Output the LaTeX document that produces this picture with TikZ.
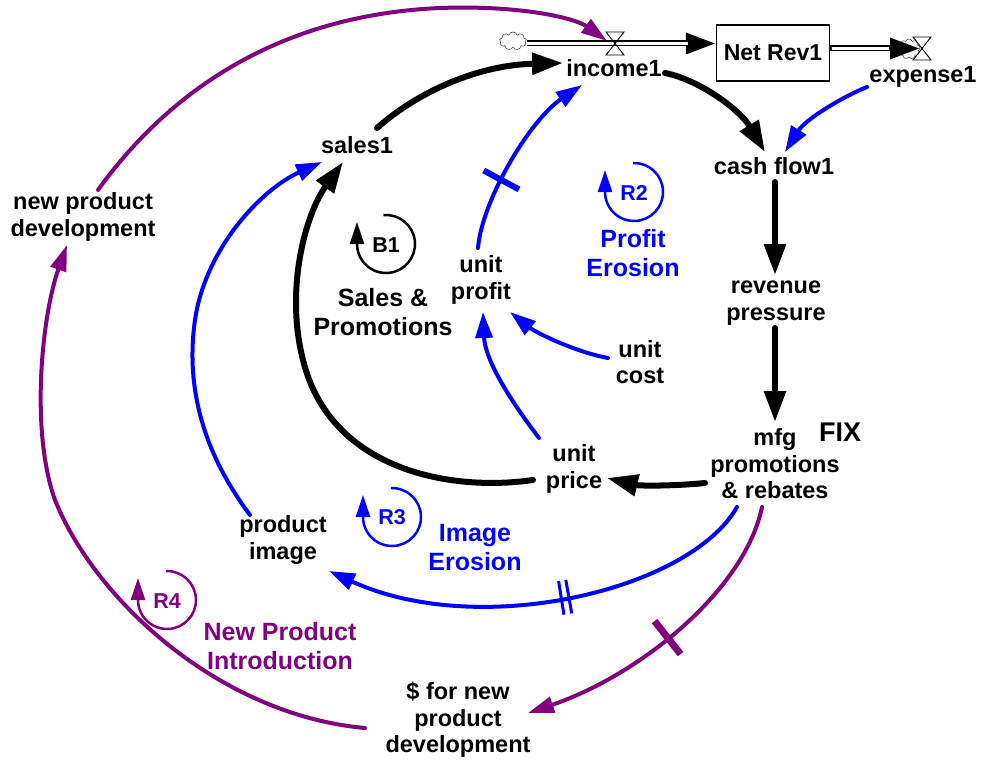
\documentclass[tikz,border=0pt]{standalone}
\usepackage{fontspec}
\setmainfont{Liberation Sans}
\usetikzlibrary{arrows.meta,shapes.symbols}
\definecolor{vblue}{RGB}{0,0,255}
\definecolor{vpurple}{RGB}{128,0,128}
\begin{document}
\begin{tikzpicture}[x=1pt,y=-1pt,
  var/.style={font=\fontsize{23.5}{26.5}\selectfont\bfseries, align=center, inner sep=0pt},
  looplbl/.style={font=\fontsize{25}{29}\selectfont\bfseries, align=center, inner sep=0pt},
  loopid/.style={font=\fontsize{21.5}{24}\selectfont\bfseries, inner sep=0pt},
  blk/.style={line width=6pt, line cap=round, -{Triangle[length=31pt,width=21pt]}},
  blu/.style={vblue, line width=4pt, line cap=round, -{Triangle[length=26pt,width=17pt]}},
  pur/.style={vpurple, line width=4pt, line cap=round, -{Triangle[length=26pt,width=16pt]}},
  loopc/.style={line width=2.5pt, -{Triangle[length=22pt,width=14pt]}},
  delaybar/.style={sloped, inner sep=0pt, minimum width=6pt, minimum height=40pt, fill=#1},
  dbar/.style={sloped, inner sep=0pt, minimum width=3pt, minimum height=34pt, fill=#1},
  valve/.style={line width=0.9pt},
  cloudy/.style={cloud, cloud puffs=9, cloud ignores aspect, draw=black!70, line width=0.6pt, inner sep=0pt},
]
\useasboundingbox (0,0) rectangle (982,760);

% ---------- variables ----------
\node[var] (income) at (614,68) {income1};
\node[var] (sales) at (357,145) {sales1};
\node[var] (expense) at (923,77) {expense1};
\node[var] (cashflow) at (774,166) {cash flow1};
\node[var] (revp) at (776,303) {revenue\\pressure};
\node[var] (mfg) at (775,464) {mfg\\promotions\\\& rebates};
\node[font=\fontsize{27}{30}\selectfont\bfseries, inner sep=0pt] (fix) at (840,432) {FIX};
\node[var] (uprice) at (574,469) {unit\\price};
\node[var] (uprofit) at (481,280) {unit\\profit};
\node[var] (ucost) at (640,362) {unit\\cost};
\node[var] (pimage) at (283,540) {product\\image};
\node[var] (npd) at (83,217) {new product\\development};
\node[var] (fnpd) at (458,720) {\$ for new\\product\\development};
\node[var, font=\fontsize{23}{27}\selectfont\bfseries, draw, line width=1.3pt, minimum width=113pt, minimum height=56pt] (netrev) at (773,53) {Net Rev1};

% ---------- stock and flows ----------
\node[cloudy, minimum width=27pt, minimum height=18pt] (cloudL) at (513,41) {};
\node[cloudy, minimum width=22pt, minimum height=20pt] (cloudR) at (909,49) {};
\coordinate (valveL) at (615,43.5);
\coordinate (valveR) at (922,48.5);
\draw[line width=6pt, -{Triangle[length=30pt,width=20pt]}] (cloudL.east |- valveL) -- ([shift={(0,-9.5)}]netrev.west);
\draw[white, line width=2.6pt] (cloudL.east |- valveL) -- (688,43.5);
\draw[line width=6pt, -{Triangle[length=30pt,width=20pt]}] ([shift={(0,-4.5)}]netrev.east) -- ([shift={(-2,0)}]valveR);
\draw[white, line width=2.6pt] ([shift={(1.5,-4.5)}]netrev.east) -- (889,48.5);
\draw[valve] ([shift={(-9,-11.5)}]valveL) -- ([shift={(9,-11.5)}]valveL) -- ([shift={(-9,11.5)}]valveL) -- ([shift={(9,11.5)}]valveL) -- cycle;
\draw[valve] ([shift={(-9,-11.5)}]valveR) -- ([shift={(9,-11.5)}]valveR) -- ([shift={(-9,11.5)}]valveR) -- ([shift={(9,11.5)}]valveR) -- cycle;

% ---------- black links ----------
\draw[blk] ([shift={(20,-17)}]sales.center) .. controls (420,90) and (480,65) .. ([shift={(-51,-5)}]income.center);
\draw[blk] ([shift={(51,5)}]income.center) .. controls (700,80) and (740,110) .. ([shift={(-9,-14)}]cashflow.center);
\draw[blk] ([shift={(1,16)}]cashflow.center) -- ([shift={(-1,-28)}]revp.center);
\draw[blk] ([shift={(-1,25)}]revp.center) -- ([shift={(0,-42)}]mfg.center);
\draw[blk] ([shift={(-70,19)}]mfg.center) .. controls (675,486) and (640,486) .. ([shift={(33,9)}]uprice.center);
\draw[blk] ([shift={(-41,11)}]uprice.center) .. controls (450,492) and (330,470) .. (303,360)
   .. controls (285,290) and (305,215) .. ([shift={(-14,17)}]sales.center);

% ---------- blue links ----------
\draw[blu] ([shift={(-3,-32)}]uprofit.center) .. controls (482,200) and (530,120) .. ([shift={(-32,17)}]income.center)
   node[delaybar=vblue, pos=0.4] (d1) {};
\draw[blu] ([shift={(-56,10)}]expense.center) .. controls (840,98) and (805,120) .. ([shift={(11,-14)}]cashflow.center);
\draw[blu] ([shift={(-32,-4)}]ucost.center) .. controls (575,352) and (535,332) .. ([shift={(29,32)}]uprofit.center);
\draw[blu] ([shift={(-35,-31)}]uprice.center) .. controls (510,400) and (485,360) .. ([shift={(2,32)}]uprofit.center);
\draw[blu] ([shift={(-33,-25)}]pimage.center) .. controls (205,455) and (185,390) .. (195,320)
   .. controls (205,250) and (260,190) .. ([shift={(-35,17)}]sales.center);
\draw[blu] ([shift={(-38,43)}]mfg.center) .. controls (690,590) and (480,640) .. ([shift={(46,31)}]pimage.center)
   node[dbar=vblue, pos=0.507] (d2a) {} node[dbar=vblue, pos=0.523] (d2b) {};

% ---------- purple links ----------
\draw[pur] ([shift={(15,-27)}]npd.center) .. controls (170,90) and (280,15) .. (440,8)
   .. controls (520,5) and (575,18) .. ([shift={(-8,-2.5)}]valveL);
\draw[pur] ([shift={(-93,8)}]fnpd.center) .. controls (220,715) and (95,600) .. (55,500)
   .. controls (30,430) and (42,315) .. ([shift={(-16,28)}]npd.center);
\draw[pur] ([shift={(-13,43)}]mfg.center) .. controls (745,590) and (640,675) .. ([shift={(70,-7)}]fnpd.center)
   node[delaybar=vpurple, pos=0.55, minimum width=7pt, minimum height=42pt] (d3) {};

% ---------- loops ----------
\coordinate (B1c) at (386,244);
\draw[loopc] (B1c) ++(-95:29) arc[start angle=-95, end angle=180, radius=29] -- ++(0,-22);
\node[loopid] (B1) at (386,245) {B1};
\node[looplbl] (B1t) at (383,312) {Sales \&\\Promotions};

\coordinate (R2c) at (634,192);
\draw[loopc, vblue] (R2c) ++(-92:29) arc[start angle=-92, end angle=180, radius=29] -- ++(0,-22);
\node[loopid, vblue] (R2) at (634,193) {R2};
\node[looplbl, vblue] (R2t) at (633,253) {Profit\\Erosion};

\coordinate (R3c) at (392,517);
\draw[loopc, vblue] (R3c) ++(-92:29) arc[start angle=-92, end angle=180, radius=29] -- ++(0,-22);
\node[loopid, vblue] (R3) at (392,517) {R3};
\node[looplbl, vblue] (R3t) at (475,548) {Image\\Erosion};

\coordinate (R4c) at (167,600);
\draw[loopc, vpurple] (R4c) ++(-92:29) arc[start angle=-92, end angle=180, radius=29] -- ++(0,-22);
\node[loopid, vpurple] (R4) at (167,601) {R4};
\node[looplbl, vpurple] (R4t) at (280,646) {New Product\\Introduction};
\end{tikzpicture}
\end{document}
